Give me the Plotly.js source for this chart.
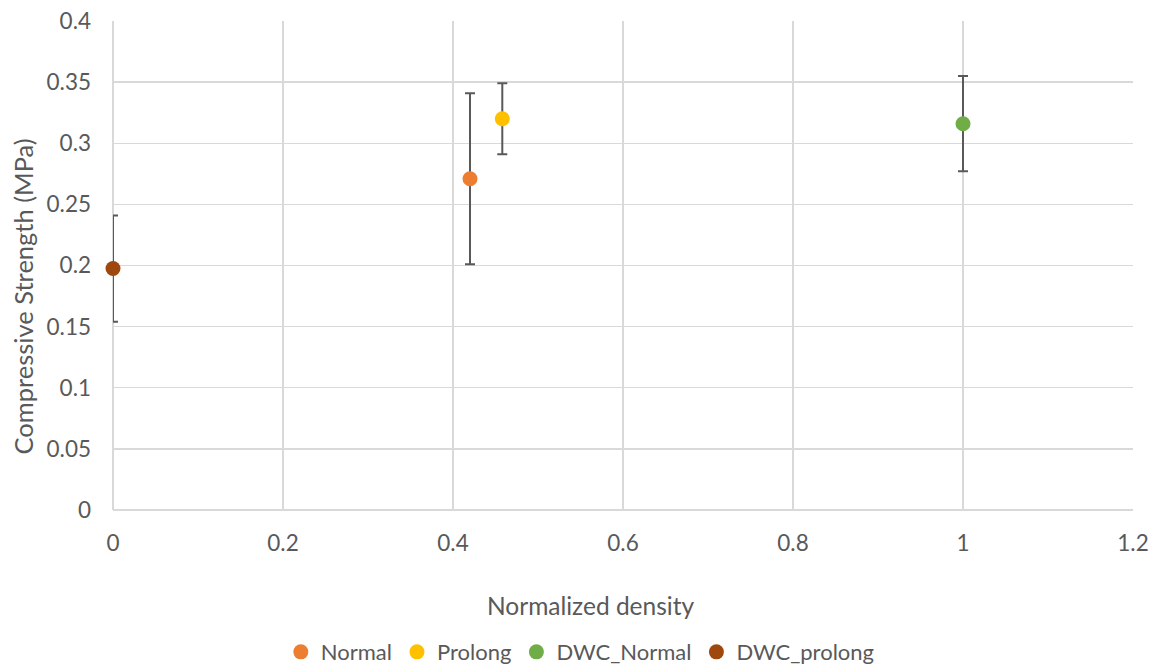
<!DOCTYPE html>
<html>
<head>
<meta charset="utf-8">
<script src="https://cdn.plot.ly/plotly-3.0.1.min.js"></script>
<style>
  html, body { margin: 0; padding: 0; background: #fff; }
  #chart { width: 1156px; height: 664px; }
</style>
</head>
<body>
<div id="chart"></div>
<script>
// Series names, normalized density (x), compressive strength (y, MPa) and error (± MPa)
const seriesNames = ["Normal", "Prolong", "DWC_Normal", "DWC_prolong"];
const densityX = [0.42, 0.458, 1.0, 0.0];
const strengthY = [0.271, 0.320, 0.316, 0.1975];
const strengthErr = [0.070, 0.029, 0.039, 0.0435];
const seriesColors = ["#ED7D31", "#FFC000", "#70AD47", "#9E480E"];

const xTicks = [0, 0.2, 0.4, 0.6, 0.8, 1, 1.2];
const yTicks = [0, 0.05, 0.1, 0.15, 0.2, 0.25, 0.3, 0.35, 0.4];

const fontFamily = "Lato, 'Open Sans', sans-serif";
const textColor = "#595959";
const gridColor = "#D9D9D9";

// plot area in pixels: left 113, top 21, width 1020, height 489
const plotLeft = 113, plotTop = 21, plotW = 1020, plotH = 489;

const traces = seriesNames.map((name, i) => ({
  type: "scatter",
  mode: "markers",
  name: name,
  x: [densityX[i]],
  y: [strengthY[i]],
  cliponaxis: false,
  marker: { color: seriesColors[i], size: 15 },
  error_y: {
    type: "data",
    array: [strengthErr[i]],
    visible: true,
    color: "#595959",
    thickness: 2,
    width: 5
  }
}));

const layout = {
  width: 1156,
  height: 664,
  paper_bgcolor: "#ffffff",
  plot_bgcolor: "#ffffff",
  margin: { l: plotLeft, r: 1156 - plotLeft - plotW, t: plotTop, b: 664 - plotTop - plotH },
  font: { family: fontFamily, color: textColor, size: 22 },
  showlegend: true,
  legend: {
    orientation: "h",
    xref: "container",
    yref: "container",
    x: 0.502,
    xanchor: "center",
    y: 0.018,
    yanchor: "middle",
    font: { size: 22, color: textColor },
    itemwidth: 30,
    traceorder: "normal"
  },
  xaxis: {
    range: [0, 1.2],
    tickvals: xTicks,
    ticktext: xTicks.map(String),
    showgrid: true,
    gridcolor: gridColor,
    gridwidth: 1.3,
    zeroline: true,
    zerolinecolor: gridColor,
    zerolinewidth: 1.3,
    showline: false,
    ticks: "",
    ticklabelstandoff: 17,
    tickfont: { size: 22.5, color: textColor },
    fixedrange: true
  },
  yaxis: {
    range: [0, 0.4],
    tickvals: yTicks,
    ticktext: yTicks.map(String),
    showgrid: true,
    gridcolor: gridColor,
    gridwidth: 1.3,
    zeroline: true,
    zerolinecolor: gridColor,
    zerolinewidth: 1.3,
    showline: false,
    ticks: "",
    ticklabelstandoff: 21,
    tickfont: { size: 22.5, color: textColor },
    fixedrange: true
  },
  annotations: [
    {
      text: "Normalized density",
      xref: "paper", yref: "paper",
      x: (590 - plotLeft) / plotW, y: -(605 - plotTop - plotH) / plotH,
      xanchor: "center", yanchor: "middle",
      showarrow: false,
      font: { size: 24.5, color: textColor, family: fontFamily }
    },
    {
      text: "Compressive Strength (MPa)",
      xref: "paper", yref: "paper",
      x: -(plotLeft - 22.5) / plotW, y: (plotTop + plotH - 297) / plotH,
      xanchor: "center", yanchor: "middle",
      textangle: -90,
      showarrow: false,
      font: { size: 25.5, color: textColor, family: fontFamily }
    }
  ]
};

Plotly.newPlot("chart", traces, layout, { displayModeBar: false, staticPlot: true });
</script>
</body>
</html>
